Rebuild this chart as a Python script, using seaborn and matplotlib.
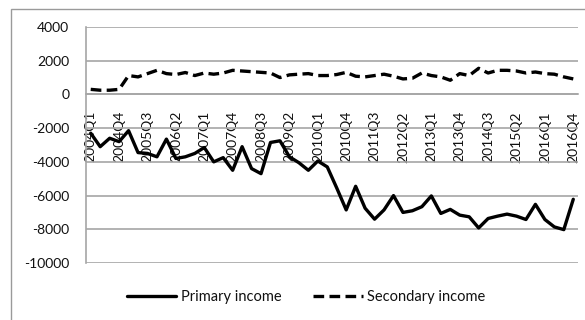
import matplotlib
matplotlib.use("Agg")
import matplotlib.pyplot as plt
from matplotlib.patches import Rectangle
import numpy as np
import pandas as pd
import seaborn as sns

quarters = [f"{y}Q{q}" for y in range(2004, 2017) for q in range(1, 5)]

primary_income = [
    -2300, -3100, -2600, -2800, -2150, -3450, -3500, -3700, -2650, -3800,
    -3700, -3500, -3150, -4000, -3750, -4500, -3100, -4400, -4700, -2850,
    -2750, -3700, -4050, -4500, -3950, -4300, -5550, -6850, -5450, -6750,
    -7400, -6850, -6000, -7000, -6900, -6660, -6020, -7060, -6820, -7160,
    -7260, -7920, -7360, -7220, -7100, -7220, -7420, -6520, -7420, -7860,
    -8020, -6220,
]

secondary_income = [
    300, 250, 250, 300, 1120, 1040, 1235, 1430, 1235, 1180,
    1300, 1120, 1270, 1200, 1270, 1430, 1390, 1350, 1310, 1270,
    1000, 1160, 1200, 1235, 1120, 1120, 1180, 1310, 1080, 1040,
    1120, 1200, 1080, 920, 960, 1270, 1120, 1040, 840, 1235,
    1120, 1550, 1270, 1430, 1430, 1390, 1270, 1330, 1235, 1200,
    1040, 920,
]

series_names = ["Primary income", "Secondary income"]
y_ticks = [4000, 2000, 0, -2000, -4000, -6000, -8000, -10000]

idx = np.arange(len(quarters))
df = pd.concat([
    pd.DataFrame({"pos": idx, "value": primary_income, "series": series_names[0]}),
    pd.DataFrame({"pos": idx, "value": secondary_income, "series": series_names[1]}),
])

sns.set_style("white")
plt.rcParams["font.family"] = ["Lato", "DejaVu Sans"]

W, H = 585, 320
fig = plt.figure(figsize=(W / 100, H / 100), dpi=100)
ax = fig.add_axes([86 / W, 1 - 263 / H, (578 - 86) / W, (263 - 27) / H])

grid_c = "#a6a6a6"
text_c = "#111111"

# chart-area frame
fig.add_artist(Rectangle((11 / W, -0.2), 2.0, 1.2 - 9 / H,
                         transform=fig.transFigure, fill=False,
                         edgecolor="#9a9a9a", lw=1.0, clip_on=False))

sns.lineplot(data=df, x="pos", y="value", hue="series", style="series",
             palette={series_names[0]: "black", series_names[1]: "black"},
             dashes={series_names[0]: "", series_names[1]: (3.2, 1.6)},
             linewidth=2.4, ax=ax, legend=True)

ax.set_xlim(-0.5, len(quarters) - 0.5)
ax.set_ylim(-10000, 4000)
ax.set_yticks(y_ticks)
ax.set_yticklabels([str(v) for v in y_ticks], fontsize=10, color=text_c)
ax.yaxis.grid(True, color=grid_c, lw=1.2)
ax.set_axisbelow(True)

for s in ["top", "right"]:
    ax.spines[s].set_visible(False)
ax.spines["left"].set_color(grid_c)
ax.spines["left"].set_linewidth(1.2)
ax.spines["bottom"].set_position(("data", 0))
ax.spines["bottom"].set_color(grid_c)
ax.spines["bottom"].set_linewidth(1.2)

ax.tick_params(axis="y", length=6, color=grid_c, width=1.2, pad=6)

label_pos = idx[::3]
ax.set_xticks(label_pos)
ax.set_xticklabels([quarters[i] for i in label_pos], rotation=90,
                   fontsize=10, color=text_c)
ax.set_xticks(np.arange(-0.5, len(quarters), 1.0), minor=True)
ax.tick_params(axis="x", which="major", length=0, pad=12)
ax.tick_params(axis="x", which="minor", length=5, color=grid_c, width=1.0,
               direction="out")
ax.set_xlabel("")
ax.set_ylabel("")

handles, labels = ax.get_legend_handles_labels()
ax.get_legend().remove()
leg = fig.legend(handles, labels, loc="center",
                 bbox_to_anchor=(306 / W, 1 - 297 / H),
                 ncol=2, frameon=False, fontsize=10.5, handlelength=3.4,
                 handletextpad=0.3, columnspacing=2.2)
for t in leg.get_texts():
    t.set_color(text_c)

fig.savefig("out.png", dpi=100)
